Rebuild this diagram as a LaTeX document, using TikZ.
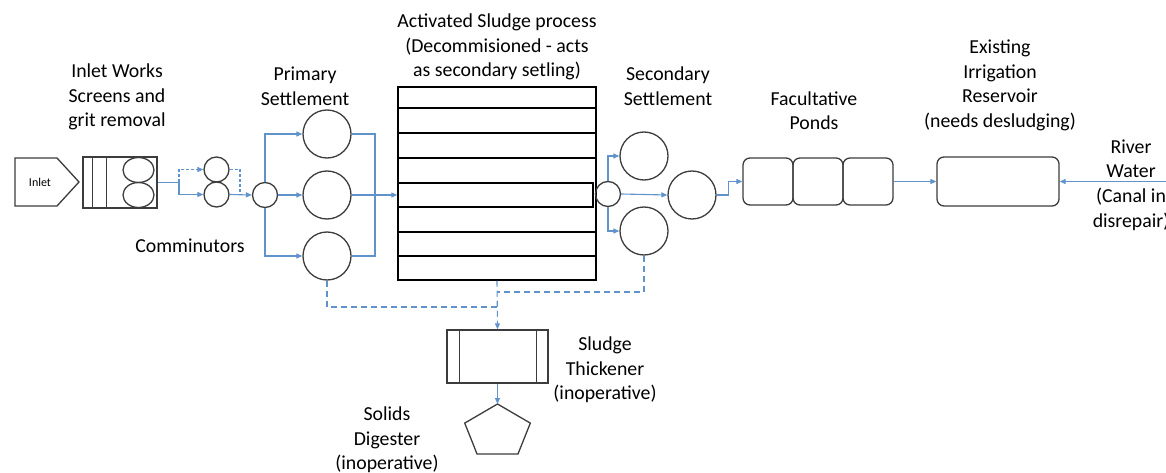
\documentclass[tikz,border=0pt]{standalone}
\usepackage{fontspec}
\setmainfont{Carlito}
\usetikzlibrary{arrows.meta,shapes.geometric}
\definecolor{flowblue}{RGB}{96,146,204}
\definecolor{shapegray}{RGB}{60,60,60}
\newcommand{\diagfont}{\fontsize{19.8}{24.6}\selectfont}

\begin{document}
\begin{tikzpicture}[
			x=1pt, y=-1pt,
			note/.style={align=center, inner sep=0pt, font=\diagfont},
			vessel/.style={draw=shapegray, line width=1.3pt, inner sep=0pt},
			tank/.style={draw=black, line width=1.5pt, inner sep=0pt},
			pond/.style={vessel, rounded corners=7pt},
			flow/.style={draw=flowblue, line width=1.1pt},
			feed/.style={flow, -{Triangle[length=6pt,width=5pt]}},
			sludge/.style={flow, dash pattern=on 6pt off 4pt},
			bypass/.style={flow, dash pattern=on 3pt off 2pt}
		]
		\useasboundingbox (0,0) rectangle (1166,473);

		\draw[vessel] (15,158) -- (57,158) -- (79,182) -- (57,206) -- (15,206) -- cycle;
		\node[inner sep=0pt, font=\fontsize{12}{14}\selectfont] (inlet) at (40,182) {Inlet};
		\node[vessel, minimum width=74pt, minimum height=51pt] (scr) at (120,182.5) {};
		\draw[vessel] ([xshift=10pt]scr.north west) rectangle ([xshift=24pt]scr.south west);
		\node[vessel, ellipse, minimum width=31pt, minimum height=25pt] (scr1) at (138.5,170) {};
		\node[vessel, ellipse, minimum width=31pt, minimum height=25pt] (scr2) at (138.5,195) {};

		\node[vessel, circle, minimum size=25pt] (com1) at (216.5,169.5) {};
		\node[vessel, circle, minimum size=25pt] (com2) at (216.5,194.5) {};
		\node[vessel, circle, minimum size=25pt] (split1) at (265,195) {};

		\foreach \n/\y in {1/134,2/195,3/256}
			\node[vessel, circle, minimum size=48pt] (prim\n) at (327,\y) {};

		\node[tank, minimum width=198pt, minimum height=193pt] (asp) at (497,183.5) {};
		\foreach \y in {108,133,158,232,256}
			\draw[tank] (asp.west |- 0,\y) -- (asp.east |- 0,\y);
		\draw[tank] (398,183) rectangle (593,207);

		\node[vessel, circle, minimum size=25pt] (split2) at (608,194) {};
		\node[vessel, circle, minimum size=48pt] (sec1) at (644,156) {};
		\node[vessel, circle, minimum size=48pt] (sec2) at (692,195) {};
		\node[vessel, circle, minimum size=48pt] (sec3) at (644,231) {};

		\foreach \n/\x in {1/768,2/818,3/868}
			\node[pond, minimum width=50pt, minimum height=47pt] (pond\n) at (\x,181.5) {};
		\node[pond, minimum width=122pt, minimum height=49pt] (res) at (998,181.5) {};

		\node[vessel, minimum width=101pt, minimum height=53pt] (thick) at (497.5,356.5) {};
		\draw[vessel] ([xshift=13pt]thick.north west) -- ([xshift=13pt]thick.south west);
		\draw[vessel] ([xshift=-12pt]thick.north east) -- ([xshift=-12pt]thick.south east);
		\draw[vessel] (497.5,404) coordinate (dig) -- (530.3,423.1) -- (518,453.9)
			-- (477,453.9) -- (464.7,423.1) -- cycle;

		\coordinate (cfork) at (179,182.5);
		\coordinate (cjoin) at (240,194.5);
		\coordinate (pjoin) at (375,195);
		\coordinate (sjoin) at (497,307);
		\coordinate (river) at (1170,181.5);

		\draw[flow] (scr.east) -- (cfork);
		\draw[feed] (cfork) |- (com2.west);
		\draw[bypass, -{Triangle[length=6pt,width=5pt]}] (cfork) |- (com1.west);
		\draw[bypass] (com1.east) -| (cjoin);
		\draw[feed] (com2.east) -- (split1.west);

		\draw[feed] (split1.north) |- (prim1.west);
		\draw[feed] (split1.south) |- (prim3.west);
		\draw[feed] (split1.east) -- (prim2.west);
		\draw[flow] (prim1.east) -| (pjoin);
		\draw[flow] (prim3.east) -| (pjoin);
		\draw[feed] (prim2.east) -- (asp.west |- prim2);

		\draw[feed] (split2.north) |- (sec1.west);
		\draw[feed] (split2.south) |- (sec3.west);
		\draw[feed] (split2.east) -- (sec2.west);
		\draw[feed] (sec2.east) -- ++(12,0) |- (pond1.west);
		\draw[feed] (pond3.east) -- (res.west);
		\draw[feed] (river) -- (res.east);

		\draw[sludge] (prim3.south) |- (sjoin);
		\draw[sludge] (sec3.south) |- (asp.south |- 0,292);
		\draw[sludge, -{Triangle[length=6pt,width=5pt]}] (asp.south) -- (thick.north);
		\draw[feed] (thick.south) -- (dig);

		\node[note] (inletlbl) at (117,97) {Inlet Works\\Screens and\\grit removal};
		\node[note] (comlbl) at (190,246) {Comminutors};
		\node[note] (primlbl) at (305,86) {Primary\\Settlement};
		\node[note] (asplbl) at (497,47) {Activated Sludge process\\(Decommisioned - acts\\as secondary setling)};
		\node[note] (seclbl) at (668,86) {Secondary\\Settlement};
		\node[note] (pondlbl) at (814,110.5) {Facultative\\Ponds};
		\node[note] (reslbl) at (1000,85.5) {Existing\\Irrigation\\Reservoir\\(needs desludging)};
		\node[note] (riverlbl) at (1131,185) {River\\Water\\(Canal in\\disrepair)};
		\node[note] (thicklbl) at (605,370) {Sludge\\Thickener\\(inoperative)};
		\node[note] (diglbl) at (387,440) {Solids\\Digester\\(inoperative)};
	\end{tikzpicture}
\end{document}
